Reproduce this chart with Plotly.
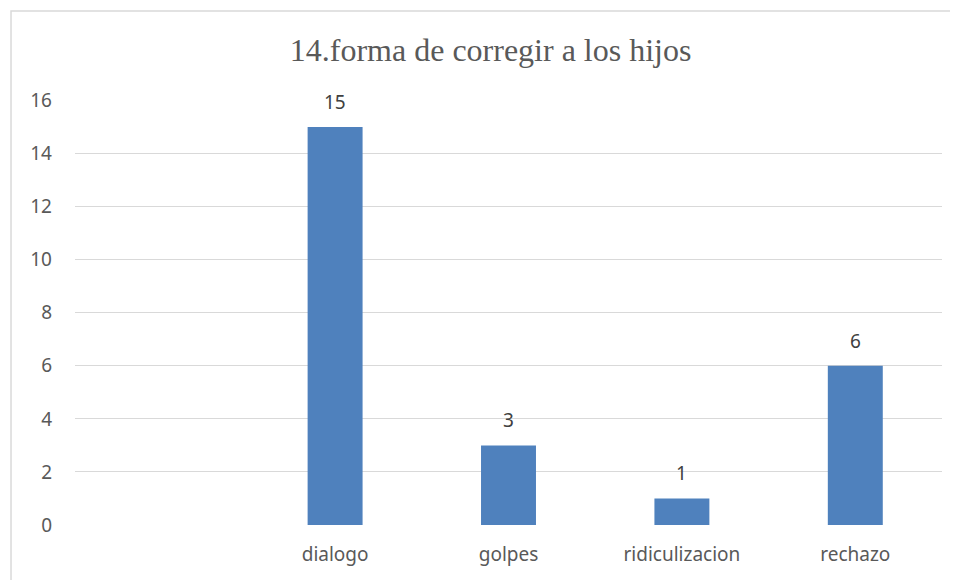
import plotly.graph_objects as go

# categorias (la primera viene vacia en el grafico original)
categorias = ["", "dialogo", "golpes", "ridiculizacion", "rechazo"]
valores = [None, 15, 3, 1, 6]
titulo = "14.forma de corregir a los hijos"
y_ticks = [0, 2, 4, 6, 8, 10, 12, 14, 16]

pos = list(range(len(categorias)))

fig = go.Figure()
fig.add_trace(go.Bar(
    x=pos, y=valores,
    marker=dict(color="#4F81BD", line=dict(width=0)),
    width=0.317,
    hoverinfo="x+y",
))

# etiquetas de datos encima de las barras
for p, v in zip(pos, valores):
    if v is None:
        continue
    fig.add_annotation(x=p, y=v, text=str(v), showarrow=False,
                       yanchor="middle", yshift=25,
                       font=dict(family="Noto Sans", size=19, color="#404040"))

# marco gris del area del grafico (solo izquierda y arriba quedan visibles)
fig.add_shape(type="rect", xref="paper", yref="paper",
              x0=-0.0738, x1=1.2, y0=-0.3, y1=1.2094,
              line=dict(color="#D9D9D9", width=1.5), layer="below")

# la pagina tiene 8px de margen en el body, por eso 950x572
fig.update_layout(
    width=950, height=572,
    margin=dict(l=67, r=16, t=92, b=55),
    paper_bgcolor="white", plot_bgcolor="white",
    showlegend=False,
    title=dict(text=titulo, xref="container", x=0.508, xanchor="center",
               y=0.9266, yanchor="middle",
               font=dict(family="Liberation Serif", size=32, color="#595959")),
    xaxis=dict(range=[-0.5, 4.5], tickvals=pos, ticktext=categorias,
               showgrid=False, zeroline=False, showline=False, ticks="",
               ticklabelstandoff=16,
               tickfont=dict(family="Noto Sans", size=19, color="#595959")),
    yaxis=dict(range=[0, 16.02], tickvals=y_ticks, showgrid=True,
               gridcolor="#D9D9D9", gridwidth=1, zeroline=False, showline=False,
               ticks="", ticklabelstandoff=22,
               tickfont=dict(family="Noto Sans", size=19, color="#595959")),
)

fig.write_html("out.html")
